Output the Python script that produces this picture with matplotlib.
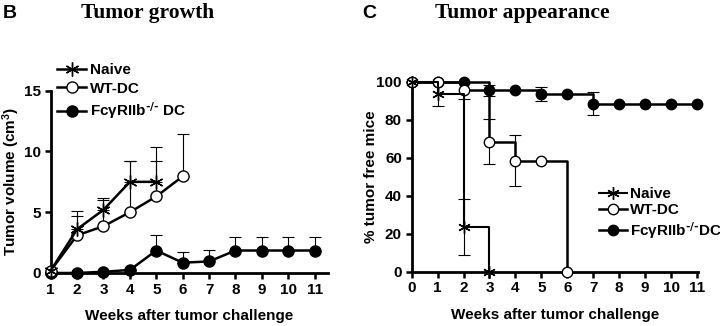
import matplotlib
matplotlib.use("Agg")
import matplotlib.pyplot as plt

plt.rcParams['font.family'] = ['Liberation Sans', 'DejaVu Sans']
plt.rcParams['font.weight'] = 'bold'
plt.rcParams['mathtext.default'] = 'regular'

# ---- panel B: tumor growth (mean + upper SEM) ----
weeks_b = list(range(1, 12))
naive_x = [1, 2, 3, 4, 5]
naive_vol = [0.2, 3.6, 5.2, 7.5, 7.5]
naive_err = [0, 1.5, 1.0, 1.7, 2.9]
wt_x = [1, 2, 3, 4, 5, 6]
wt_vol = [0.2, 3.1, 3.85, 5.0, 6.3, 7.95]
wt_err = [0, 1.6, 2.15, 4.2, 2.9, 3.45]
fc_x = list(range(1, 12))
fc_vol = [0, 0, 0.1, 0.25, 1.85, 0.85, 0.95, 1.85, 1.85, 1.85, 1.85]
fc_err = [0, 0, 0, 0, 1.3, 0.9, 0.95, 1.1, 1.1, 1.1, 1.1]

# ---- panel C: tumor appearance (% tumor free, step) ----
weeks_c = list(range(0, 12))
naive_cx = [0, 1, 2, 3]
naive_free = [100, 93.5, 23.5, 0]
naive_ferr = [0, 6.5, 14.5, 0]
wt_cx = [0, 1, 2, 3, 4, 5, 6]
wt_free = [100, 100, 95.5, 68.5, 58.5, 58.5, 0]
wt_ferr = [0, 0, 4.5, 12, 13.5, 0, 0]
fc_cx = list(range(0, 12))
fc_free = [100, 100, 100, 95.5, 95.5, 93.5, 93.3, 88.5, 88.5, 88.5, 88.5, 88.5]
fc_ferr = [0, 0, 0, 3, 0, 3.5, 0, 6, 0, 0, 0, 0]

labels_b = ['Naive', 'WT-DC', 'Fc\u03b3RIIb$^{\\text{-/-}}$ DC']
labels_c = ['Naive', 'WT-DC', 'Fc\u03b3RIIb$^{\\text{-/-}}$DC']

star = (6, 2, 0)
lw = 1.8
fig = plt.figure(figsize=(7.2, 3.26), dpi=100)


def style_axes(ax):
    for s in ['top', 'right']:
        ax.spines[s].set_visible(False)
    for s in ['left', 'bottom']:
        ax.spines[s].set_linewidth(2.0)
    ax.tick_params(direction='out', length=4.5, width=1.8, labelsize=11, pad=2.5)
    for t in ax.get_xticklabels() + ax.get_yticklabels():
        t.set_fontweight('bold')


def ebar(ax, x, y, err, lower=True):
    yerr = [err if lower else [0] * len(err), err]
    ax.errorbar(x, y, yerr=yerr, fmt='none', ecolor='black', elinewidth=0.8,
                capsize=4, capthick=0.8, zorder=2)


# panel B
ax1 = fig.add_axes([0.0704, 0.1626, 0.385, 0.5592])
ebar(ax1, fc_x, fc_vol, fc_err, lower=False)
ebar(ax1, wt_x, wt_vol, wt_err, lower=False)
ebar(ax1, naive_x, naive_vol, naive_err, lower=False)
h3, = ax1.plot(fc_x, fc_vol, color='black', lw=lw, marker='o', ms=8,
               mfc='black', mec='black', zorder=3, clip_on=False)
h2, = ax1.plot(wt_x, wt_vol, color='black', lw=lw, marker='o', ms=8,
               mfc='white', mec='black', mew=1.0, zorder=4, clip_on=False)
h1, = ax1.plot(naive_x, naive_vol, color='black', lw=lw, marker=star, ms=10,
               mew=1.0, zorder=5, clip_on=False)
ax1.set_xlim(1, 11.5)
ax1.set_ylim(0, 15)
ax1.set_xticks(weeks_b)
ax1.set_yticks([0, 5, 10, 15])
style_axes(ax1)
ax1.set_xlabel('Weeks after tumor challenge', fontsize=11, fontweight='bold', labelpad=9)
ax1.set_ylabel('Tumor volume (cm$^3$)', fontsize=11, fontweight='bold')
ax1.yaxis.set_label_coords(-0.104, 0.5)
ax1.legend([h1, h2, h3], labels_b, loc='upper left', frameon=False,
           bbox_to_anchor=(57 / 720, 1 - 63 / 326), bbox_transform=fig.transFigure,
           fontsize=11, handlelength=1.9, handletextpad=0.25, borderpad=0,
           borderaxespad=0, labelspacing=0.3)

# panel C
ax2 = fig.add_axes([0.5718, 0.1666, 0.398, 0.5828])
ebar(ax2, fc_cx, fc_free, fc_ferr)
ebar(ax2, wt_cx, wt_free, wt_ferr)
ebar(ax2, naive_cx, naive_free, naive_ferr)
g3, = ax2.plot(fc_cx, fc_free, color='black', lw=lw, drawstyle='steps-post',
               marker='o', ms=7.5, mfc='black', mec='black', zorder=3, clip_on=False)
g2, = ax2.plot(wt_cx, wt_free, color='black', lw=lw, drawstyle='steps-post',
               marker='o', ms=7.5, mfc='white', mec='black', mew=1.0, zorder=4, clip_on=False)
g1, = ax2.plot(naive_cx, naive_free, color='black', lw=1.5, drawstyle='steps-post',
               marker=star, ms=9, mew=1.0, zorder=5, clip_on=False)
ax2.set_xlim(0, 11.05)
ax2.set_ylim(0, 100)
ax2.set_xticks(weeks_c)
ax2.set_yticks([0, 20, 40, 60, 80, 100])
style_axes(ax2)
ax2.set_xlabel('Weeks after tumor challenge', fontsize=11, fontweight='bold', labelpad=9)
ax2.set_ylabel('% tumor free mice', fontsize=11, fontweight='bold')
ax2.yaxis.set_label_coords(-0.117, 0.5)
ax2.legend([g1, g2, g3], labels_c, loc='upper left', frameon=False,
           bbox_to_anchor=(599 / 720, 1 - 187 / 326), bbox_transform=fig.transFigure,
           fontsize=11, handlelength=1.8, handletextpad=0.2, borderpad=0,
           borderaxespad=0, labelspacing=0.15)

# panel letters and titles
fig.text(3 / 720, 1 - 13 / 326, 'B', fontsize=14, fontweight='bold', va='center', ha='left')
fig.text(362 / 720, 1 - 13 / 326, 'C', fontsize=14, fontweight='bold', va='center', ha='left')
fig.text(148 / 720, 1 - 13 / 326, 'Tumor growth', fontsize=15.5, fontweight='bold',
         family='Liberation Serif', va='center', ha='center')
fig.text(522 / 720, 1 - 13 / 326, 'Tumor appearance', fontsize=15.5, fontweight='bold',
         family='Liberation Serif', va='center', ha='center')

fig.savefig('out.png', dpi=100)
